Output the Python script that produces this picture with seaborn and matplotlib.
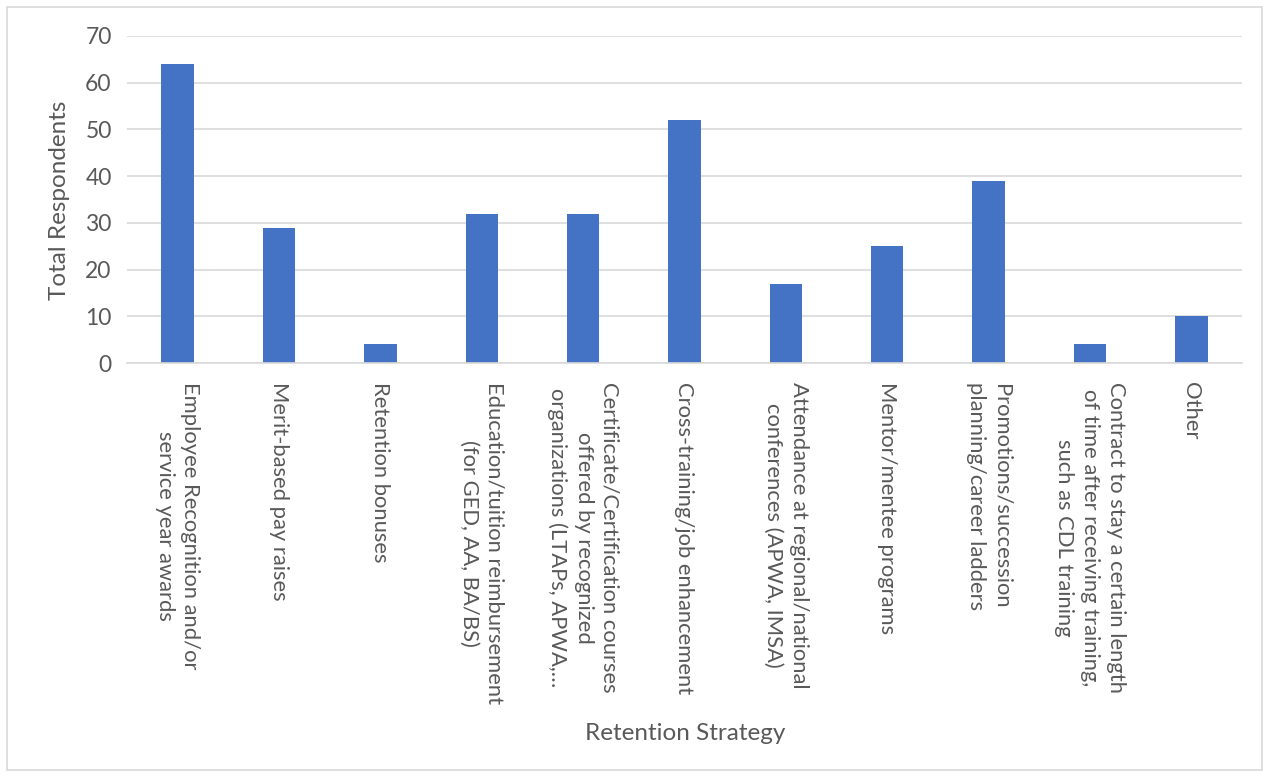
import matplotlib
matplotlib.use("Agg")
import matplotlib.pyplot as plt
from matplotlib.patches import Rectangle
import seaborn as sns

categories = [
    "Employee Recognition and/or\nservice year awards",
    "Merit-based pay raises",
    "Retention bonuses",
    "Education/tuition reimbursement\n(for GED, AA, BA/BS)",
    "Certificate/Certification courses\noffered by recognized\norganizations (LTAPs, APWA,…",
    "Cross-training/job enhancement",
    "Attendance at regional/national\nconferences (APWA, IMSA)",
    "Mentor/mentee programs",
    "Promotions/succession\nplanning/career ladders",
    "Contract to stay a certain length\nof time after receiving training,\nsuch as CDL training",
    "Other",
]
respondents = [64, 29, 4, 32, 32, 52, 17, 25, 39, 4, 10]
y_ticks = [0, 10, 20, 30, 40, 50, 60, 70]

sns.set_theme(style="white")
plt.rcParams["font.family"] = ["Lato", "DejaVu Sans"]

text_color = "#595959"
grid_color = "#D9D9D9"
bar_color = "#4472C4"

W, H = 1268, 776
fig = plt.figure(figsize=(W / 100, H / 100), dpi=100)
ax = fig.add_axes([127 / W, 1 - 363 / H, (1242 - 127) / W, (363 - 36) / H])

sns.barplot(x=list(range(len(categories))), y=respondents, color=bar_color,
            saturation=1, width=0.32, ax=ax, zorder=3, linewidth=0)

ax.set_ylim(0, 70)
ax.set_xlim(-0.5, len(categories) - 0.5)
ax.set_yticks(y_ticks)
ax.set_yticklabels([str(t) for t in y_ticks], fontsize=16.5, color=text_color)
ax.yaxis.grid(True, color=grid_color, linewidth=1.2, zorder=0)
ax.xaxis.grid(False)
ax.tick_params(axis="both", length=0)
ax.tick_params(axis="y", pad=11)

ax.set_xticks(range(len(categories)))
ax.set_xticklabels(categories, rotation=-90, ha="center", va="top",
                   multialignment="center", fontsize=15.8, color=text_color,
                   linespacing=1.35)
ax.tick_params(axis="x", pad=14)

for side in ["top", "right", "left"]:
    ax.spines[side].set_visible(False)
ax.spines["bottom"].set_color(grid_color)
ax.spines["bottom"].set_linewidth(1.2)
ax.spines["bottom"].set_zorder(4)

fig.text(59 / W, 1 - 200 / H, "Total Respondents", rotation=90, ha="center",
         va="center", fontsize=17.5, color=text_color)
fig.text(685 / W, 1 - 733 / H, "Retention Strategy", ha="center", va="center",
         fontsize=17.5, color=text_color)

fig.patches.append(Rectangle((7 / W, 1 - 770 / H), (1262 - 7) / W, (770 - 7) / H,
                             transform=fig.transFigure, fill=False,
                             edgecolor=grid_color, linewidth=1.2))

fig.savefig("out.png", dpi=100)
